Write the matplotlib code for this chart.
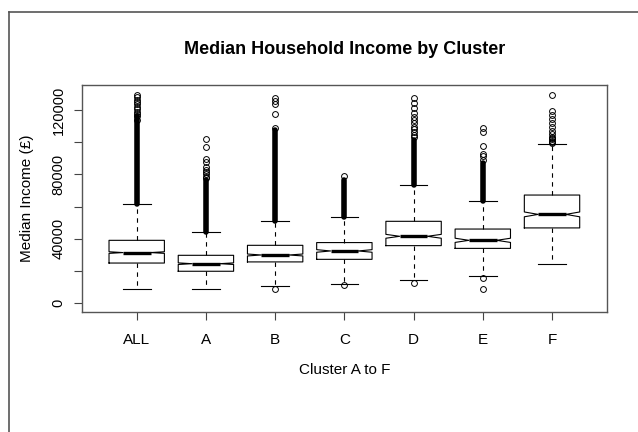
import matplotlib
matplotlib.use("Agg")
import matplotlib.pyplot as plt
from matplotlib.lines import Line2D

plt.rcParams["font.family"] = ["Liberation Sans", "DejaVu Sans"]

clusters = ["ALL", "A", "B", "C", "D", "E", "F"]
q1 = [25000, 19900, 25700, 27300, 35800, 34100, 46800]
med = [31500, 24600, 30000, 32500, 41600, 39100, 55200]
q3 = [39100, 29800, 36000, 37700, 50900, 46100, 67200]
whis_lo = [9000, 8900, 10800, 12200, 14700, 17000, 24600]
whis_hi = [61700, 44300, 51300, 53600, 73700, 63700, 98700]
notch_half = [500, 500, 600, 800, 1200, 1300, 1500]

# stretches where outliers are so packed they merge into a solid column
dense_lo = [61700, 44300, 51300, 53600, 73700, 63700, None]
dense_hi = [116000, 76500, 107600, 76500, 101400, 86900, None]

# individually visible outliers
out_all = [113500, 116000, 117500, 119000, 120500, 122000, 123500, 125000,
           126500, 128000, 129500]
out_a = [77500, 78600, 80500, 81800, 82800, 84400, 87900, 89400, 96800,
         102000]
out_b = [8700, 109000, 117300, 123700, 125600, 127200]
out_c = [11200, 79200]
out_d = [12400, 103000, 104500, 106500, 108000, 109700, 111700, 113800,
         115800, 117900, 121000, 124100, 127200]
out_e = [8900, 15900, 89000, 91400, 92400, 97600, 106500, 108600]
out_f = [99500, 100300, 101000, 101800, 102600, 103400, 105100, 107100,
         109600, 112100, 114200, 116700, 119200, 129300]
outliers = [out_all, out_a, out_b, out_c, out_d, out_e, out_f]

stats = []
for i, name in enumerate(clusters):
    stats.append({
        "label": name,
        "q1": q1[i], "med": med[i], "q3": q3[i],
        "whislo": whis_lo[i], "whishi": whis_hi[i],
        "cilo": med[i] - notch_half[i], "cihi": med[i] + notch_half[i],
        "fliers": outliers[i],
    })

W, H = 638, 432
fig = plt.figure(figsize=(W / 100, H / 100), dpi=100)
ax = fig.add_axes([82.3 / W, 1 - 311.7 / H, (606.7 - 82.3) / W, (311.7 - 85) / H])

lw = 0.8
ax.bxp(stats, positions=range(1, 8), widths=0.8, capwidths=0.4,
       shownotches=True, patch_artist=False,
       boxprops=dict(color="black", linewidth=lw),
       whiskerprops=dict(color="black", linewidth=lw, linestyle=(0, (4, 4))),
       capprops=dict(color="black", linewidth=lw),
       medianprops=dict(color="black", linewidth=2.4, solid_capstyle="butt"),
       flierprops=dict(marker="o", markerfacecolor="none",
                       markeredgecolor="black", markersize=4.2,
                       markeredgewidth=0.7, linestyle="none"))

for i in range(len(clusters)):
    if dense_lo[i] is None:
        continue
    ax.plot([i + 1, i + 1], [dense_lo[i], dense_hi[i]], color="black",
            linewidth=4.0, solid_capstyle="round", zorder=3)

ax.set_xlim(0.214, 7.79)
ax.set_ylim(-5200, 135500)

yt = [0, 20000, 40000, 60000, 80000, 100000, 120000]
ylab = ["0", "", "40000", "", "80000", "", "120000"]
ax.set_yticks(yt)
ax.set_yticklabels(ylab, rotation=90, va="center", fontsize=10.5)
ax.set_xticks(range(1, 8))
ax.set_xticklabels(clusters, fontsize=11)
ax.tick_params(axis="both", length=6, width=0.8, color="#444444")
ax.tick_params(axis="x", pad=9)
ax.tick_params(axis="y", pad=6)

for side in ["top", "right", "bottom", "left"]:
    ax.spines[side].set_color("#555555")
    ax.spines[side].set_linewidth(1.0)

fig.text(345 / W, 1 - 50 / H, "Median Household Income by Cluster",
         ha="center", va="center", fontsize=13, fontweight="bold")
fig.text(344.5 / W, 1 - 370 / H, "Cluster A to F",
         ha="center", va="center", fontsize=11)
fig.text(27 / W, 1 - 198 / H, "Median Income (£)", rotation=90,
         ha="center", va="center", fontsize=11)

# outer frame along the left and top
fig.add_artist(Line2D([8.5 / W, 8.5 / W], [0, 1 - 12 / H],
                      transform=fig.transFigure, color="#555555", linewidth=1.2))
fig.add_artist(Line2D([8.5 / W, 1], [1 - 12 / H, 1 - 12 / H],
                      transform=fig.transFigure, color="#555555", linewidth=1.2))

fig.savefig("out.png", dpi=100)
